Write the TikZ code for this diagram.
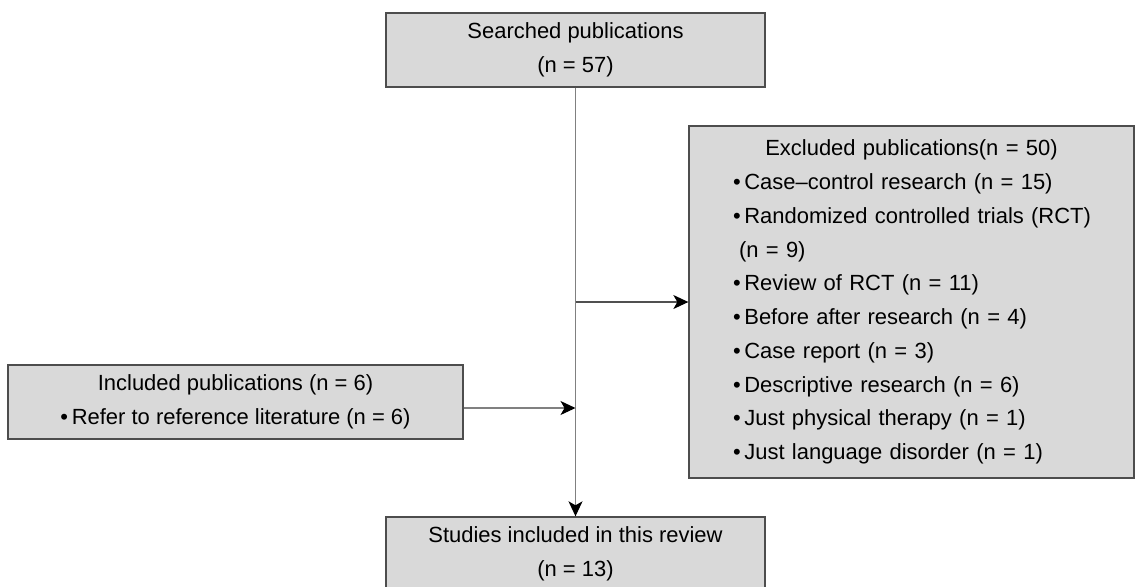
\documentclass[tikz,border=0pt]{standalone}
\usepackage{fontspec}
\setmainfont{Liberation Sans}
\usetikzlibrary{positioning,arrows.meta,calc}
\definecolor{boxgray}{HTML}{D9D9D9}
\definecolor{edgegray}{HTML}{4D4D4D}
\definecolor{linegray}{HTML}{808080}
\definecolor{branchgray}{HTML}{505050}
\tikzset{
  pubbox/.style={fill=boxgray, draw=edgegray, line width=0.8pt, inner sep=0pt,
    font=\fontsize{12.5}{19.2}\selectfont, align=center},
  flow/.style={linegray, line width=0.7pt},
  flowarrow/.style={flow, -{Stealth[black,length=0.3cm,width=0.28cm,inset=0.08cm]}}
}

\begin{document}
\begin{tikzpicture}[x=0.02cm, y=-0.02cm]
      \useasboundingbox (0,0) rectangle (1135,586);
      \node[pubbox, minimum width=7.58cm, minimum height=1.48cm] (searched) at (575.5,50)
        {Searched publications\\(n = 57)};
      \node[pubbox, text width=8.9cm, minimum height=7.04cm, align=left] (excluded) at (911.5,302)
        {{\centering Excluded publications(n = 50)\par}
         {\leftskip=0.88cm
          \textbullet\,Case–control research (n = 15)\\
          \textbullet\,Randomized controlled trials (RCT)\\
          \hspace*{0.12cm}(n = 9)\\
          \textbullet\,Review of RCT (n = 11)\\
          \textbullet\,Before after research (n = 4)\\
          \textbullet\,Case report (n = 3)\\
          \textbullet\,Descriptive research (n = 6)\\
          \textbullet\,Just physical therapy (n = 1)\\
          \textbullet\,Just language disorder (n = 1)\par}};
      \node[pubbox, minimum width=9.1cm, minimum height=1.48cm] (included) at (235.5,402)
        {Included publications (n = 6)\\\textbullet\,Refer to reference literature (n = 6)};
      \node[pubbox, minimum width=7.58cm, minimum height=1.48cm] (studies) at (575.5,554)
        {Studies included in this review\\(n = 13)};

      \draw[flowarrow] (searched.south) -- (studies.north);
      \draw[flowarrow, branchgray] (searched.south |- excluded.west) -- (excluded.west);
      \draw[flowarrow] ([yshift=-0.12cm]included.east) -- ([yshift=-0.12cm]included.east -| searched.south);
    \end{tikzpicture}
\end{document}
